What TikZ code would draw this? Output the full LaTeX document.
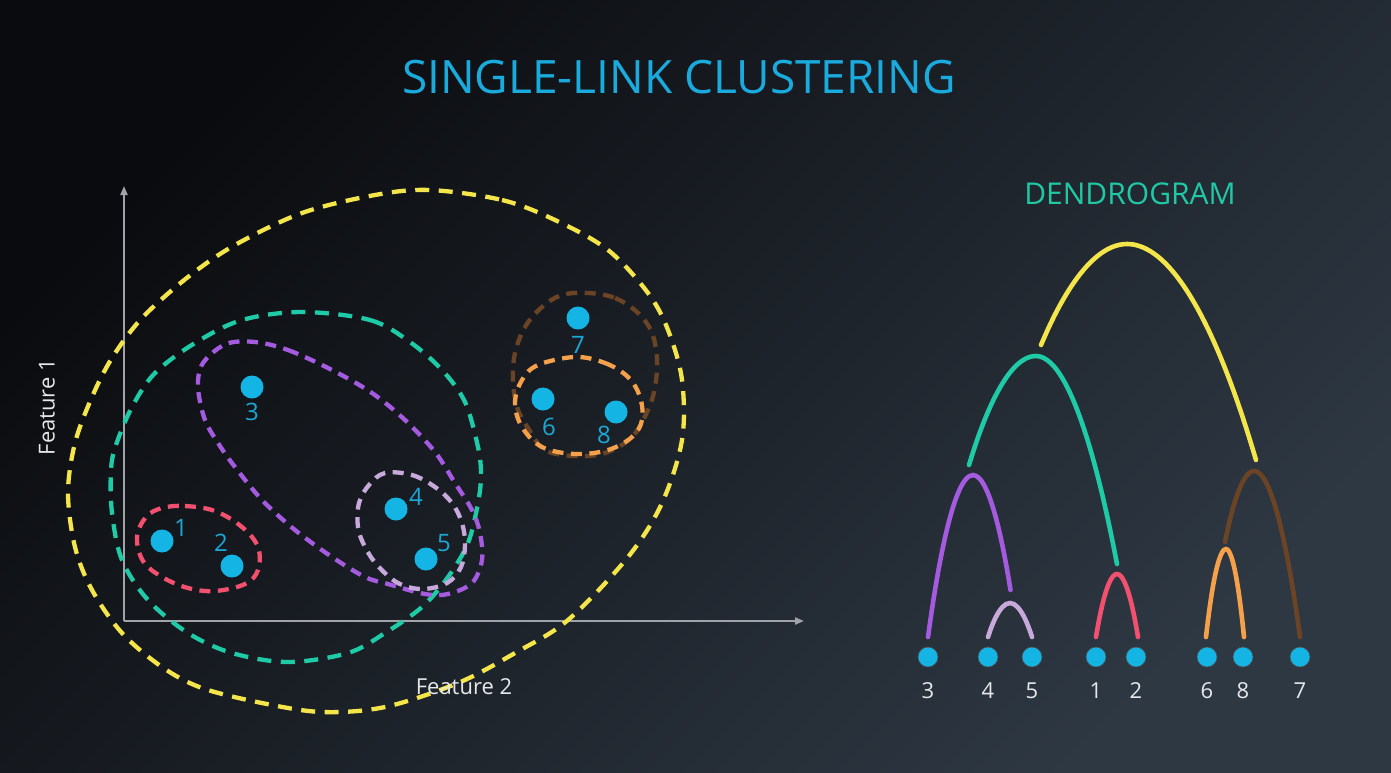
\documentclass[tikz,border=0pt]{standalone}
\usepackage{fontspec}
\setmainfont{Open Sans}
\usetikzlibrary{arrows.meta}
\definecolor{bgA}{HTML}{0A0B0E}
\definecolor{bgB}{HTML}{2E3843}
\definecolor{cyanpt}{HTML}{14B4E4}
\definecolor{cyanlab}{HTML}{1AA8D6}
\definecolor{titlec}{HTML}{1AABDE}
\definecolor{dendc}{HTML}{20C8A6}
\definecolor{yel}{HTML}{F4E64A}
\definecolor{tealc}{HTML}{1ECBA6}
\definecolor{purp}{HTML}{A55BE0}
\definecolor{lpurp}{HTML}{C8A9DB}
\definecolor{pinkc}{HTML}{F2506F}
\definecolor{orangec}{HTML}{F5A04A}
\definecolor{brownc}{HTML}{6B4426}
\definecolor{axisc}{HTML}{A0A4AA}
\definecolor{labw}{HTML}{E6E8EA}
\begin{document}
\begin{tikzpicture}[x=1pt,y=-1pt,
  axisline/.style={draw=axisc,line width=2pt,-{Triangle[length=9pt,width=7pt]}},
  bigdash/.style={line width=4.3pt,dash pattern=on 14pt off 9.5pt},
  smalldash/.style={line width=4.3pt,dash pattern=on 11pt off 7.5pt},
  pt/.style={circle,fill=cyanpt,inner sep=0pt,minimum size=23pt},
  ptlab/.style={text=cyanlab,font=\fontsize{24}{26}\selectfont,inner sep=0pt},
  leaf/.style={circle,fill=cyanpt,draw=black!70,line width=0.6pt,inner sep=0pt,minimum size=20pt},
  leaflab/.style={text=labw,font=\fontsize{22}{24}\selectfont,inner sep=0pt},
  arc/.style={line width=4.6pt,line cap=round},
  axlab/.style={text=labw,font=\fontsize{22}{24}\selectfont,inner sep=0pt}]
\useasboundingbox (0,0) rectangle (1391,772);
\shade[top color=bgA,bottom color=bgB,shading angle=45] (0,0) rectangle (1391,772);

% title
\node[text=titlec,font=\fontsize{46}{50}\selectfont,inner sep=0pt] (title) at (679,77) {SINGLE-LINK CLUSTERING};
\node[text=dendc,font=\fontsize{30}{34}\selectfont,inner sep=0pt] (dendt) at (1130,194) {DENDROGRAM};

% axes
\coordinate (O) at (124,621);
\coordinate (Ytip) at (124,186);
\coordinate (Xtip) at (804,621);
\draw[axisline] (O) -- (Ytip);
\draw[axisline] (O) -- (Xtip);

% clusters
\draw[bigdash,yel] plot[smooth cycle,tension=0.55] coordinates {
 (430,190) (502,200) (555,220) (608,250) (648,293) (668,330) (682,380) (682,440)
 (662,503) (628,557) (568,620) (515,653) (458,683) (385,707) (322,712) (262,703)
 (202,688) (162,667) (122,633) (92,590) (75,547) (68,493) (75,443) (92,397)
 (112,358) (142,318) (188,277) (235,245) (302,213) (375,195)};
\draw[bigdash,tealc] plot[smooth cycle,tension=0.55] coordinates {
 (302,312) (370,320) (410,342) (442,370) (465,402) (478,447) (481,475) (478,503)
 (468,543) (448,577) (422,607) (385,633) (348,653) (288,662) (232,653) (188,633)
 (148,600) (122,560) (112,513) (111,470) (116,445) (132,407) (155,373) (195,343) (242,320)};
\draw[smalldash,purp] plot[smooth cycle,tension=0.55] coordinates {
 (255,342) (288,350) (332,370) (372,393) (405,420) (435,452) (455,483) (472,510)
 (480,533) (482,560) (472,583) (448,594) (425,594) (388,584) (365,577) (332,557)
 (295,530) (262,500) (235,467) (220,446) (205,420) (198,387) (203,363) (226,344)};
\draw[smalldash,lpurp] plot[smooth cycle,tension=0.6] coordinates {
 (385,473) (412,475) (435,487) (452,503) (462,523) (465,545) (461,567) (447,583)
 (422,589) (398,583) (378,566) (365,547) (358,527) (359,503) (369,485)};
\draw[smalldash,pinkc] plot[smooth cycle,tension=0.6] coordinates {
 (162,508) (185,506) (215,511) (242,527) (258,547) (258,570) (245,584) (215,591)
 (188,588) (162,577) (143,561) (137,537) (146,517)};
\draw[smalldash,brownc] plot[smooth cycle,tension=0.6] coordinates {
 (588,293) (615,298) (638,313) (652,333) (657,360) (655,387) (648,410) (632,437)
 (605,453) (575,456) (545,450) (528,428) (517,407) (513,380) (515,353) (525,327)
 (542,307) (562,295)};
\draw[smalldash,orangec] plot[smooth cycle,tension=0.6] coordinates {
 (575,357) (605,363) (628,377) (640,397) (642,420) (632,437) (608,450) (575,454)
 (542,447) (522,427) (515,403) (522,380) (538,365)};

% points
\node[pt] (p1) at (162,541) {};
\node[pt] (p2) at (232,566) {};
\node[pt] (p3) at (252,387) {};
\node[pt] (p4) at (396,509) {};
\node[pt] (p5) at (426,559) {};
\node[pt] (p6) at (543,399) {};
\node[pt] (p7) at (578,318) {};
\node[pt] (p8) at (616,412) {};
\node[ptlab] (l1) at (181,528) {1};
\node[ptlab] (l2) at (221,543) {2};
\node[ptlab] (l3) at (252,412) {3};
\node[ptlab] (l4) at (416,497) {4};
\node[ptlab] (l5) at (444,543) {5};
\node[ptlab] (l6) at (549,427) {6};
\node[ptlab] (l7) at (578,345) {7};
\node[ptlab] (l8) at (604,435) {8};

\node[axlab,rotate=90] (f1) at (47,407) {Feature 1};
\node[axlab] (f2) at (464,687) {Feature 2};

% dendrogram leaves
\foreach \n/\x in {3/928,4/988,5/1032,1/1096,2/1136,6/1207,8/1243,7/1300}{
  \node[leaf] (d\n) at (\x,657) {};
  \node[leaflab] (dl\n) at (\x,691) {\n};
}
% arc end points
\coordinate (a3) at (928,637);
\coordinate (a4) at (988,637);
\coordinate (a5) at (1032,637);
\coordinate (a1) at (1096,637);
\coordinate (a2) at (1138,637);
\coordinate (a6) at (1206,637);
\coordinate (a8) at (1244,637);
\coordinate (a7) at (1300,637);
\coordinate (t45) at (1010,603);
\coordinate (t12) at (1117,574);
\coordinate (t68) at (1226,549);
\coordinate (t345) at (973,475);
\coordinate (t687) at (1254,471);
\coordinate (t34512) at (1036,356);
\coordinate (tall) at (1127,244);
\coordinate (s345) at (1010.5,590);
\coordinate (s12) at (1117,564);
\coordinate (s68) at (1225,542);
\coordinate (s345b) at (969,465);
\coordinate (s687) at (1256,460);
\coordinate (s34512) at (1041,345);

\draw[arc,lpurp] (a4) parabola bend (t45) (a5);
\draw[arc,pinkc] (a1) parabola bend (t12) (a2);
\draw[arc,orangec] (a6) parabola bend (t68) (a8);
\draw[arc,purp] (a3) parabola bend (t345) (s345);
\draw[arc,brownc] (s68) parabola bend (t687) (a7);
\draw[arc,tealc] (s345b) parabola bend (t34512) (s12);
\draw[arc,yel] (s34512) parabola bend (tall) (s687);
\end{tikzpicture}
\end{document}
